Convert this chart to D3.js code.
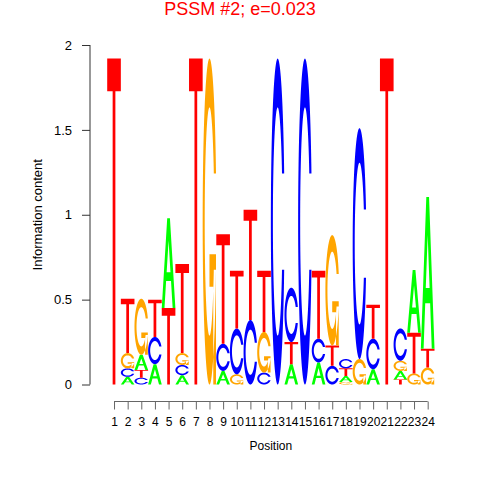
<!DOCTYPE html>
<html>
<head>
<meta charset="utf-8">
<script src="https://cdn.jsdelivr.net/npm/d3@7"></script>
<style>
  body { margin: 0; background: #fff; }
  text { font-family: "Liberation Sans", Arial, sans-serif; }
</style>
</head>
<body>
<script>
// information content (bits) of each base at each position
var positions = d3.range(1, 25);
var bitsA = [0, 0.045, 0.09, 0.12, 0.53, 0.055, 0, 0, 0.08, 0, 0, 0, 0, 0.12, 0, 0.13, 0, 0.035, 0, 0.09, 0, 0.05, 0.37, 0.895];
var bitsC = [0, 0.05, 0.04, 0.16, 0, 0.06, 0, 0, 0.16, 0.27, 0.38, 0.07, 1.92, 0.32, 1.92, 0.14, 0.11, 0.055, 1.36, 0.18, 0, 0.19, 0, 0];
var bitsG = [0, 0.09, 0.33, 0, 0, 0.07, 0, 1.92, 0, 0.06, 0, 0.24, 0, 0, 0, 0, 0.65, 0.015, 0.15, 0, 0, 0.06, 0.065, 0.10];
var bitsT = [1.92, 0.32, 0.045, 0.22, 0.45, 0.525, 1.92, 0, 0.645, 0.34, 0.65, 0.36, 0, 0.13, 0, 0.40, 0.12, 0.045, 0, 0.20, 1.92, 0.03, 0.24, 0.11];
var yTicks = [0, 0.5, 1, 1.5, 2];
var title = "PSSM #2; e=0.023";

var colors = { A: "#00FF00", C: "#0000FF", G: "#FFA500", T: "#FF0000" };

var w = 480, h = 480;
var svg = d3.select("body").append("svg").attr("width", w).attr("height", h);

var x = d3.scaleLinear().domain([0.5, 24.5]).range([107.2, 434.5]);
var y = d3.scaleLinear().domain([0, 2]).range([384.5, 45]);

// letter outlines in unit box (seqLogo style)
function cShape() {
  var a1 = d3.range(100).map(function (i) { return 0.3 + Math.PI / 2 + i * (Math.PI / 2 - 0.3) / 99; });
  var a2 = d3.range(100).map(function (i) { return Math.PI + i * (Math.PI / 2) / 99; });
  var xl = a1.concat(a2).map(function (a) { return 0.5 + 0.5 * Math.sin(a); });
  var yl = a1.concat(a2).map(function (a) { return 0.5 + 0.5 * Math.cos(a); });
  var maxY1 = d3.max(a1, function (a) { return 0.5 + 0.5 * Math.cos(a); });
  var xi = [], yi = [];
  a1.forEach(function (a) {
    var yy = 0.5 + 0.35 * Math.cos(a);
    if (yy <= maxY1) { xi.push(0.5 + 0.35 * Math.sin(a)); yi.push(yy); }
  });
  yi[0] = maxY1;
  a2.forEach(function (a) { xi.push(0.5 + 0.35 * Math.sin(a)); yi.push(0.5 + 0.35 * Math.cos(a)); });
  var outer = [];
  xl.forEach(function (v, i) { outer.push([v, yl[i]]); });
  for (var i = xl.length - 1; i >= 0; i--) outer.push([xl[i], 1 - yl[i]]);
  var inner = [];
  xi.forEach(function (v, i) { inner.push([v, yi[i]]); });
  for (var j = xi.length - 1; j >= 0; j--) inner.push([xi[j], 1 - yi[j]]);
  return { poly: outer.concat(inner.reverse()), r1: d3.max(xl.slice(0, 100)) };
}
var cs = cShape();
var glyphs = {
  A: [[[0, 0], [0.4, 1], [0.6, 1], [1, 0], [0.8, 0], [0.68, 0.3], [0.32, 0.3], [0.2, 0], [0, 0]],
      [[0.36, 0.4], [0.5, 0.75], [0.64, 0.4], [0.36, 0.4]]],
  C: [cs.poly],
  G: [cs.poly, [[cs.r1, 0.4], [0.5, 0.4], [0.5, 0.3], [cs.r1 - 0.2, 0.3], [cs.r1 - 0.2, 0], [cs.r1, 0], [cs.r1, 0.4]]],
  T: [[[0, 1], [1, 1], [1, 0.9], [0.6, 0.9], [0.6, 0], [0.4, 0], [0.4, 0.9], [0, 0.9]]]
};

var letters = [];
positions.forEach(function (p, i) {
  var col = [
    { base: "A", bits: bitsA[i] }, { base: "C", bits: bitsC[i] },
    { base: "G", bits: bitsG[i] }, { base: "T", bits: bitsT[i] }
  ].filter(function (d) { return d.bits > 0; })
   .sort(function (a, b) { return a.bits - b.bits; });
  var y0 = 0;
  col.forEach(function (d) {
    letters.push({ pos: p, base: d.base, y0: y0, bits: d.bits });
    y0 += d.bits;
  });
});

function letterPath(d) {
  return glyphs[d.base].map(function (poly) {
    return "M" + poly.map(function (pt) {
      return x(d.pos - 0.5 + pt[0]).toFixed(2) + "," + y(d.y0 + pt[1] * d.bits).toFixed(2);
    }).join("L") + "Z";
  }).join("");
}

svg.append("g").selectAll("path")
  .data(letters)
  .enter().append("path")
  .attr("d", letterPath)
  .attr("fill", function (d) { return colors[d.base]; })
  .attr("fill-rule", "evenodd");

// y axis
var yAxis = svg.append("g")
  .attr("transform", "translate(90,0)")
  .call(d3.axisLeft(y).tickValues(yTicks).tickFormat(d3.format("")).tickSize(8).tickPadding(10).tickSizeOuter(0));
yAxis.select(".domain").attr("d", "M0," + y(0) + "V" + y(2)).attr("stroke", "#333");
yAxis.selectAll(".tick line").attr("stroke", "#333");
yAxis.selectAll(".tick text").attr("font-size", 13).attr("fill", "#000")
  .style("font-family", "'Liberation Sans', Arial, sans-serif");

svg.append("text")
  .attr("transform", "translate(42," + y(1) + ") rotate(-90)")
  .attr("text-anchor", "middle")
  .attr("font-size", 13)
  .text("Information content");

// x axis
var xAxis = svg.append("g")
  .attr("transform", "translate(0,401.5)")
  .call(d3.axisBottom(x).tickValues(positions).tickSize(8).tickPadding(8).tickSizeOuter(0));
xAxis.select(".domain").attr("d", "M" + x(1) + ",0H" + x(24)).attr("stroke", "#666");
xAxis.selectAll(".tick line").attr("stroke", "#666");
xAxis.selectAll(".tick text").attr("font-size", 12).attr("fill", "#000")
  .style("font-family", "'Liberation Sans', Arial, sans-serif");

svg.append("text")
  .attr("x", x(12.5))
  .attr("y", 450)
  .attr("text-anchor", "middle")
  .attr("font-size", 12)
  .text("Position");

svg.append("text")
  .attr("x", 240)
  .attr("y", 15)
  .attr("text-anchor", "middle")
  .attr("font-size", 18)
  .attr("fill", "#FF0000")
  .text(title);
</script>
</body>
</html>
